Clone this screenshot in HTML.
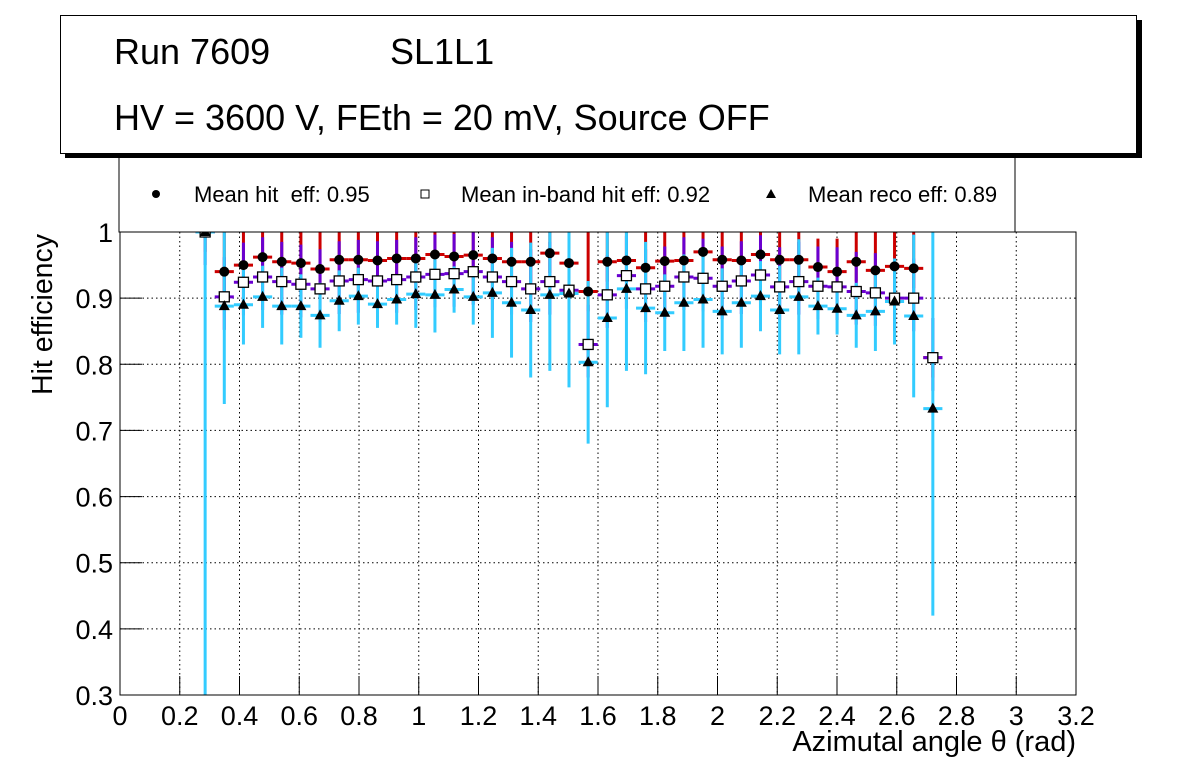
<!DOCTYPE html>
<html><head><meta charset="utf-8"><style>
body{margin:0;background:#fff;}
svg{display:block;font-family:"Liberation Sans",sans-serif;}
</style></head><body>
<svg id="c" width="1196" height="772" viewBox="0 0 1196 772">
<rect x="0" y="0" width="1196" height="772" fill="#fff"/>
<g id="grid"></g>
<g id="marks"></g>
<rect x="120" y="232" width="956" height="463" fill="none" stroke="#000" stroke-width="1"/>
<g id="axes"></g>
<text x="1076" y="751" font-size="29" text-anchor="end">Azimutal angle θ (rad)</text>
<text transform="translate(52,395) rotate(-90)" font-size="28.5" text-anchor="start">Hit efficiency</text>
<rect x="119" y="155" width="896" height="77" fill="#fff" stroke="#000" stroke-width="1"/>
<g><circle cx="156" cy="194" r="4" fill="#000"/><text x="194" y="202" font-size="22" xml:space="preserve" style="white-space:pre">Mean hit  eff: 0.95</text></g>
<g><rect x="421" y="190" width="8" height="8" fill="#fff" stroke="#000"/><text x="461" y="202" font-size="22">Mean in-band hit eff: 0.92</text></g>
<g><path d="M771 189 L776 198 L766 198 Z" fill="#000"/><text x="808" y="202" font-size="22">Mean reco eff: 0.89</text></g>
<rect x="65" y="20" width="1077" height="138" fill="#000"/>
<rect x="60.5" y="15.5" width="1076" height="138" fill="#fff" stroke="#000"/>
<text x="114" y="64" font-size="36">Run 7609</text>
<text x="390" y="64" font-size="36">SL1L1</text>
<text x="114" y="130" font-size="36">HV = 3600 V, FEth = 20 mV, Source OFF</text>
</svg>
<script>
const hitEff=[1.0,0.94,0.95,0.962,0.955,0.953,0.944,0.958,0.958,0.957,0.96,0.96,0.966,0.963,0.965,0.96,0.955,0.955,0.968,0.953,0.91,0.955,0.957,0.946,0.956,0.957,0.97,0.958,0.957,0.966,0.958,0.958,0.947,0.94,0.955,0.942,0.948,0.945,0.81];
const inbandEff=[1.0,0.902,0.924,0.932,0.925,0.921,0.914,0.926,0.928,0.926,0.928,0.932,0.936,0.937,0.94,0.932,0.925,0.914,0.925,0.912,0.83,0.905,0.934,0.914,0.918,0.932,0.93,0.918,0.926,0.935,0.917,0.925,0.918,0.917,0.91,0.908,0.9,0.9,0.81];
const recoEff=[1.0,0.888,0.89,0.902,0.888,0.888,0.874,0.896,0.903,0.891,0.898,0.906,0.905,0.913,0.902,0.908,0.893,0.882,0.905,0.907,0.803,0.87,0.914,0.885,0.878,0.893,0.898,0.88,0.893,0.903,0.882,0.902,0.888,0.884,0.874,0.88,0.895,0.873,0.733];
const recoLow=[0.3,0.74,0.83,0.855,0.83,0.84,0.825,0.85,0.86,0.855,0.86,0.855,0.848,0.878,0.86,0.84,0.81,0.78,0.79,0.765,0.68,0.735,0.79,0.785,0.82,0.82,0.825,0.815,0.825,0.85,0.815,0.815,0.845,0.845,0.825,0.82,0.83,0.75,0.42];
const hitUp=[1,1,1,1,1,1,1,1,1,1,1,1,1,1,1,1,1,1,1,1,1,1,1,1,1,1,1,1,1,1,1,1,0.99,0.99,1,1,1,1,0.812];
const binStart=0.285, binStep=0.0641, binHalf=0.032;
const xTicks=[0,0.2,0.4,0.6,0.8,1,1.2,1.4,1.6,1.8,2,2.2,2.4,2.6,2.8,3,3.2];
const yTicks=[0.3,0.4,0.5,0.6,0.7,0.8,0.9,1];
const X0=120,X1=1076,Y0=695,Y1=232;
const sx=v=>X0+(v-0)/3.2*(X1-X0);
const sy=v=>Y0-(v-0.3)/0.7*(Y0-Y1);
const cy=v=>Math.max(Y1,Math.min(Y0,sy(v)));
const NS='http://www.w3.org/2000/svg';
function mk(p,t,a){const e=document.createElementNS(NS,t);for(const k in a)e.setAttribute(k,a[k]);p.appendChild(e);return e;}
const grid=document.getElementById('grid'),axes=document.getElementById('axes'),marks=document.getElementById('marks');
xTicks.forEach((t,i)=>{const x=sx(t);
 if(i>0&&i<xTicks.length-1){const g=mk(grid,'line',{x1:x,x2:x,y1:Y1,y2:Y0,stroke:'#000','stroke-dasharray':'1.5,3','stroke-width':1});
 
 }
 mk(axes,'line',{x1:x,x2:x,y1:Y0,y2:Y0-19,stroke:'#000'});
 const tx=mk(axes,'text',{x:x,y:725,'font-size':27,'text-anchor':'middle'});tx.textContent=String(t);
 
 
});
yTicks.forEach((t,i)=>{const y=sy(t);
 if(i>0&&i<yTicks.length-1){const g=mk(grid,'line',{x1:X0,x2:X1,y1:y,y2:y,stroke:'#000','stroke-dasharray':'1.5,3','stroke-width':1});
 
 }
 mk(axes,'line',{x1:X0,x2:X0+22,y1:y,y2:y,stroke:'#000'});
 const tx=mk(axes,'text',{x:113,y:y+10,'font-size':27,'text-anchor':'end'});tx.textContent=String(t);
 
 
});
hitEff.forEach((v,i)=>{const xc=binStart+i*binStep,x=sx(xc),xl=sx(xc-binHalf),xr=sx(xc+binHalf);
 const g=mk(marks,'g',{});
 
 
 const ib=inbandEff[i], r=recoEff[i];
 mk(g,'line',{x1:x,x2:x,y1:cy(hitUp[i]),y2:cy(v-0.03),stroke:'#cc0000','stroke-width':3});
 mk(g,'line',{x1:xl,x2:xr,y1:sy(v),y2:sy(v),stroke:'#cc0000','stroke-width':3});
 mk(g,'line',{x1:x,x2:x,y1:cy(Math.min(1,ib+0.06)),y2:cy(Math.max(ib-0.05,recoLow[i])),stroke:'#6a00d0','stroke-width':3});
 mk(g,'line',{x1:xl,x2:xr,y1:sy(ib),y2:sy(ib),stroke:'#6a00d0','stroke-width':3});
 mk(g,'line',{x1:x,x2:x,y1:cy(Math.min(1,r+(r-recoLow[i]))),y2:cy(recoLow[i]),stroke:'#33ccff','stroke-width':3});
 mk(g,'line',{x1:xl,x2:xr,y1:sy(r),y2:sy(r),stroke:'#33ccff','stroke-width':3});
 mk(g,'circle',{cx:x,cy:sy(v),r:5,fill:'#000'});
 mk(g,'rect',{x:x-5,y:sy(ib)-5,width:10,height:10,fill:'#fff',stroke:'#000','stroke-width':1.3});
 const yr=sy(r);mk(g,'path',{d:`M${x} ${yr-6} L${x+5.5} ${yr+4} L${x-5.5} ${yr+4} Z`,fill:'#000'});
});
</script>
</body></html>
